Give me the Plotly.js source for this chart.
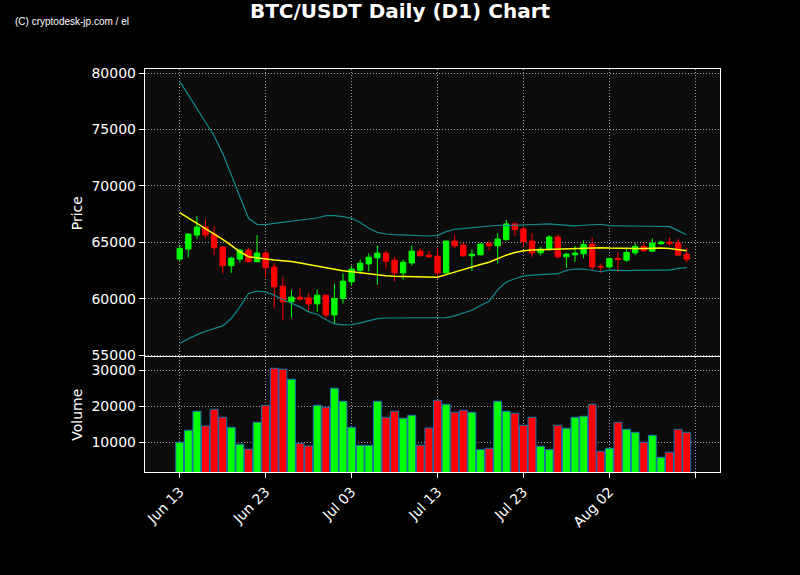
<!DOCTYPE html>
<html><head><meta charset="utf-8">
<script src="https://cdn.plot.ly/plotly-3.0.1.min.js"></script>
<style>html,body{margin:0;padding:0;background:#000;}#chart{width:800px;height:575px;}</style>
</head><body><div id="chart"></div>
<script>
const dates = [
 '2024-06-13','2024-06-14','2024-06-15','2024-06-16','2024-06-17','2024-06-18','2024-06-19','2024-06-20','2024-06-21','2024-06-22',
 '2024-06-23','2024-06-24','2024-06-25','2024-06-26','2024-06-27','2024-06-28','2024-06-29','2024-06-30','2024-07-01','2024-07-02',
 '2024-07-03','2024-07-04','2024-07-05','2024-07-06','2024-07-07','2024-07-08','2024-07-09','2024-07-10','2024-07-11','2024-07-12',
 '2024-07-13','2024-07-14','2024-07-15','2024-07-16','2024-07-17','2024-07-18','2024-07-19','2024-07-20','2024-07-21','2024-07-22',
 '2024-07-23','2024-07-24','2024-07-25','2024-07-26','2024-07-27','2024-07-28','2024-07-29','2024-07-30','2024-07-31','2024-08-01',
 '2024-08-02','2024-08-03','2024-08-04','2024-08-05','2024-08-06','2024-08-07','2024-08-08','2024-08-09','2024-08-10','2024-08-11'
];
const openP = [63520,64408,65651,66362,65740,64586,62928,63520,64319,63283,
 64053,62810,61122,59731,60146,60086,59554,60323,58577,60027,
 61507,62530,63095,63631,64048,63423,62292,63185,64226,63869,
 63780,62292,65119,64762,63810,63899,64911,64702,65238,66637,
 66190,65119,64077,64375,65476,63720,63899,63988,64851,62887,
 62827,63571,63423,64077,64643,64226,64881,65030,64940,63958];
const highP = [64763,65799,67338,67042,66450,64674,63727,64438,64526,65651,
 64230,63194,61951,60767,60915,60530,60826,60360,61359,62247,
 62928,63482,64018,64732,64256,63720,63482,64732,64464,64256,
 64524,65119,65625,64970,64375,64911,65149,65804,66994,66756,
 66399,65804,64613,65655,65714,64077,64702,65179,65446,63125,
 63661,64107,64524,64970,65000,65357,65149,65446,65327,64524];
const lowP = [63342,63668,65326,65326,63905,62247,62306,63194,63224,63254,
 61951,59139,58074,58340,59850,58991,58843,58133,57807,59583,
 61152,62292,62441,61250,62679,61548,61697,62947,63780,63661,
 61786,62292,64464,63720,62470,63869,64256,63125,65149,65565,
 64613,63720,63839,64256,63571,62738,63274,63571,62470,62292,
 62679,62381,63274,63869,64196,64167,64792,64732,63810,63214];
const closeP = [64467,65740,66362,65651,64526,62928,63609,64319,63283,64053,
 62750,61063,59731,60146,59968,59554,60323,58577,60027,61566,
 62632,63155,63690,64048,63333,62292,63244,64226,63810,63720,
 62292,65119,64702,63810,63958,64851,64702,65298,66637,66131,
 65060,64077,64405,65476,63720,63958,64048,64821,62827,62827,
 63571,63482,64107,64643,64256,64940,65030,64911,63869,63512];
const volume = [10000,13333,18611,14537,19167,16944,14167,9444,8056,15556,
 20278,30556,30278,27500,9722,8981,20278,19722,25000,21389,
 14167,9167,9167,21389,16944,18611,16667,17500,9167,13981,
 21667,20556,18333,18889,18333,7963,8333,21389,18611,18056,
 14722,16944,8889,7963,14722,13889,16944,17222,20556,7500,
 8333,15556,13611,12778,10000,11944,5833,7222,13611,12778];
const movingAvg = [67634,67161,66687,66243,65770,65266,64734,64171,63727,63609,
 63520,63431,63372,63313,63165,63017,62928,62780,62602,62484,
 62395,62300,62262,62173,62050,62000,61970,61950,61935,61920,
 61910,62143,62381,62589,62798,63036,63244,63571,63869,64107,
 64256,64315,64345,64375,64435,64464,64494,64524,64524,64524,
 64494,64464,64464,64464,64464,64494,64494,64464,64375,64256];
const upperBand = [79267,78083,76899,75715,74442,72903,70979,69055,67131,66598,
 66569,66687,66776,66894,66983,67102,67161,67368,67368,67279,
 67131,66756,66250,65893,65744,65684,65655,65625,65595,65565,
 65625,65952,66161,66220,66280,66339,66399,66518,66488,66518,
 66518,66548,66577,66637,66577,66488,66458,66518,66548,66607,
 66488,66458,66429,66429,66429,66429,66429,66399,66042,65684];
const lowerBand = [56061,56446,56830,57126,57363,57600,58251,59287,60471,60678,
 60619,60323,59938,59642,59287,58843,58636,58162,57776,57687,
 57716,57865,58072,58250,58300,58310,58320,58310,58300,58310,
 58309,58339,58487,58725,58992,59407,59792,60801,61483,61780,
 62017,62106,62165,62195,62225,62521,62640,62640,62491,62402,
 62551,62491,62491,62521,62551,62551,62551,62551,62699,62758];
const tickDates = ['2024-06-13','2024-06-23','2024-07-03','2024-07-13','2024-07-23','2024-08-02','2024-08-12'];
const tickLabels = ['Jun 13','Jun 23','Jul 03','Jul 13','Jul 23','Aug 02',''];
const priceTicks = [55000,60000,65000,70000,75000,80000];
const volumeTicks = [10000,20000,30000];

const volColors = closeP.map((c,i)=> c >= openP[i] ? '#00ff00' : '#ff0000');
const xRange = ['2024-06-08 23:00','2024-08-14 21:00'];
const gridC = 'rgba(200,200,200,0.8)';

const traces = [
 {type:'candlestick', x:dates, open:openP, high:highP, low:lowP, close:closeP,
  xaxis:'x', yaxis:'y', whiskerwidth:0,
  increasing:{line:{color:'#00ff00',width:1}, fillcolor:'#00ff00'},
  decreasing:{line:{color:'#ff0000',width:1}, fillcolor:'#ff0000'},
  showlegend:false, hoverinfo:'skip'},
 {type:'scatter', mode:'lines', x:dates, y:upperBand, xaxis:'x', yaxis:'y',
  line:{color:'#0e8a8c', width:1.2}, showlegend:false, hoverinfo:'skip'},
 {type:'scatter', mode:'lines', x:dates, y:lowerBand, xaxis:'x', yaxis:'y',
  line:{color:'#0e8a8c', width:1.2}, showlegend:false, hoverinfo:'skip'},
 {type:'scatter', mode:'lines', x:dates, y:movingAvg, xaxis:'x', yaxis:'y',
  line:{color:'#ffff00', width:1.5}, showlegend:false, hoverinfo:'skip'},
 {type:'bar', x:dates, y:volume, xaxis:'x2', yaxis:'y2', width:0.92*86400000,
  marker:{color:volColors, line:{color:'#1f6fb0', width:1}}, showlegend:false, hoverinfo:'skip'}
];

const axCommon = {showline:true, linecolor:'#ffffff', linewidth:1.2, mirror:true,
  showgrid:true, gridcolor:gridC, griddash:'1px,2px', gridwidth:1, zeroline:false,
  tickcolor:'#ffffff', tickfont:{family:'DejaVu Sans', size:14, color:'#ffffff'}};

const layout = {
 width:800, height:575, paper_bgcolor:'#000000', plot_bgcolor:'#0c0c0c',
 margin:{l:145, r:80, t:69, b:103},
 font:{family:'DejaVu Sans', color:'#ffffff', size:14},
 showlegend:false, bargap:0, boxgap:0.38, boxgroupgap:0,
 title:{text:'<b>BTC/USDT Daily (D1) Chart</b>', font:{family:'DejaVu Sans', size:20, color:'#ffffff'},
  x:0.5, xref:'container', xanchor:'center', y:0.981, yref:'container', yanchor:'middle'},
 xaxis:Object.assign({}, axCommon, {type:'date', range:xRange, anchor:'y', matches:'x2',
  side:'top', mirror:false,
  tickvals:tickDates, showticklabels:false, ticks:'', rangeslider:{visible:false}}),
 xaxis2:Object.assign({}, axCommon, {type:'date', range:xRange, anchor:'y2',
  tickvals:tickDates, ticktext:tickLabels, tickangle:-45, ticks:'outside', ticklen:5}),
 yaxis:Object.assign({}, axCommon, {domain:[0.2846,1], range:[54820,80360], anchor:'x',
  tickvals:priceTicks, tickformat:'d', ticks:'outside', ticklen:5,
  title:{text:'Price', standoff:5, font:{family:'DejaVu Sans', size:14, color:'#ffffff'}}}),
 yaxis2:Object.assign({}, axCommon, {domain:[0,0.2846], range:[1750,33600], anchor:'x2',
  tickvals:volumeTicks, tickformat:'d', ticks:'outside', ticklen:5,
  title:{text:'Volume', standoff:5, font:{family:'DejaVu Sans', size:14, color:'#ffffff'}}}),
 annotations:[{text:'(C) cryptodesk-jp.com / el', xref:'paper', yref:'paper',
  x:-0.229, y:1.117, xanchor:'left', yanchor:'middle', showarrow:false,
  font:{family:'Liberation Sans', size:10, color:'#ffffff'}}]
};

Plotly.newPlot('chart', traces, layout, {displayModeBar:false, staticPlot:true});
</script>
</body></html>
